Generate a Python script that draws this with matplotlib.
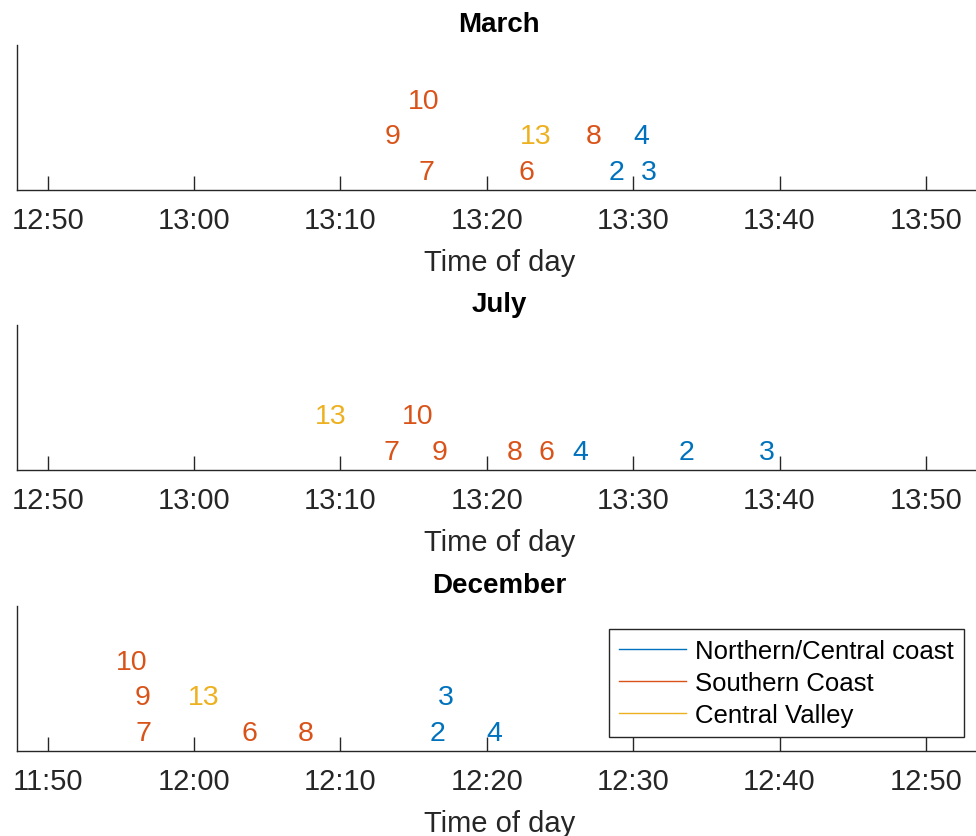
import matplotlib.pyplot as plt
from matplotlib.lines import Line2D
from matplotlib.ticker import FuncFormatter, MultipleLocator

plt.rcParams['font.family'] = ['Liberation Sans', 'DejaVu Sans']

BLUE = '#0072BD'
ORANGE = '#D95319'
YELLOW = '#EDB120'
AXCOL = '#262626'

regions = ['Northern/Central coast', 'Southern Coast', 'Central Valley']
region_colors = [BLUE, ORANGE, YELLOW]
# station number -> region index
station_region = {2: 0, 3: 0, 4: 0, 6: 1, 7: 1, 8: 1, 9: 1, 10: 1, 13: 2}

months = ['March', 'July', 'December']

march_ids = [10, 9, 7, 13, 6, 8, 4, 2, 3]
march_times = ['13:15:40', '13:13:33', '13:15:52', '13:23:19', '13:22:44',
               '13:27:20', '13:30:32', '13:28:50', '13:31:05']
march_rows = [3, 2, 1, 2, 1, 2, 2, 1, 1]

july_ids = [13, 10, 7, 9, 8, 6, 4, 2, 3]
july_times = ['13:09:19', '13:15:16', '13:13:29', '13:16:46', '13:21:53',
              '13:24:04', '13:26:25', '13:33:37', '13:39:08']
july_rows = [2, 2, 1, 1, 1, 1, 1, 1, 1]

dec_ids = [10, 9, 7, 13, 6, 8, 3, 2, 4]
dec_times = ['11:55:44', '11:56:29', '11:56:34', '12:00:40', '12:03:48',
             '12:07:37', '12:17:12', '12:16:37', '12:20:29']
dec_rows = [3, 2, 1, 2, 1, 1, 2, 1, 1]

# first labelled tick of each panel
first_tick = ['12:50', '12:50', '11:50']


def to_min(s):
    parts = [int(p) for p in s.split(':')]
    while len(parts) < 3:
        parts.append(0)
    return parts[0] * 60 + parts[1] + parts[2] / 60.0


def fmt(x, pos):
    m = int(round(x))
    return f"{m // 60:02d}:{m % 60:02d}"


panels = [(march_ids, march_times, march_rows),
          (july_ids, july_times, july_rows),
          (dec_ids, dec_times, dec_rows)]

fig = plt.figure(figsize=(9.76, 8.37), dpi=100)
bottoms = [0.7722, 0.4376, 0.1019]
height = 0.1725

for k, (ids, times, rows) in enumerate(panels):
    ax = fig.add_axes([0.017, bottoms[k], 0.989, height])
    t0 = to_min(first_tick[k])
    ax.set_xlim(t0 - 2.12, t0 + 63.82)
    ax.set_ylim(0.5, 4.55)
    for sid, tm, r in zip(ids, times, rows):
        ax.text(to_min(tm), r, str(sid), color=region_colors[station_region[sid]],
                ha='center', va='center', fontsize=20.5)
    ax.xaxis.set_major_locator(MultipleLocator(10))
    ax.xaxis.set_major_formatter(FuncFormatter(fmt))
    ax.tick_params(axis='x', direction='in', length=10, width=1.0, color=AXCOL,
                   labelcolor=AXCOL, labelsize=21, pad=12, top=False)
    ax.set_yticks([])
    for side in ['top', 'right']:
        ax.spines[side].set_visible(False)
    for side in ['left', 'bottom']:
        ax.spines[side].set_color(AXCOL)
        ax.spines[side].set_linewidth(1.0)
    ax.set_xlabel('Time of day', fontsize=21, color=AXCOL, labelpad=10)
    ax.set_title(months[k], fontsize=20, fontweight='bold', pad=10)

    if k == 2:
        handles = [Line2D([], [], color=c, lw=1.0) for c in region_colors]
        leg = fig.legend(handles, regions, loc='upper left',
                         bbox_to_anchor=(0.624, 0.2473), borderaxespad=0,
                         fontsize=18.5, frameon=True, fancybox=False,
                         framealpha=1, edgecolor=AXCOL, handlelength=2.6,
                         handletextpad=0.35, labelspacing=0.3,
                         borderpad=0.4)
        leg.get_frame().set_linewidth(1.0)

fig.savefig('out.png', dpi=100)
